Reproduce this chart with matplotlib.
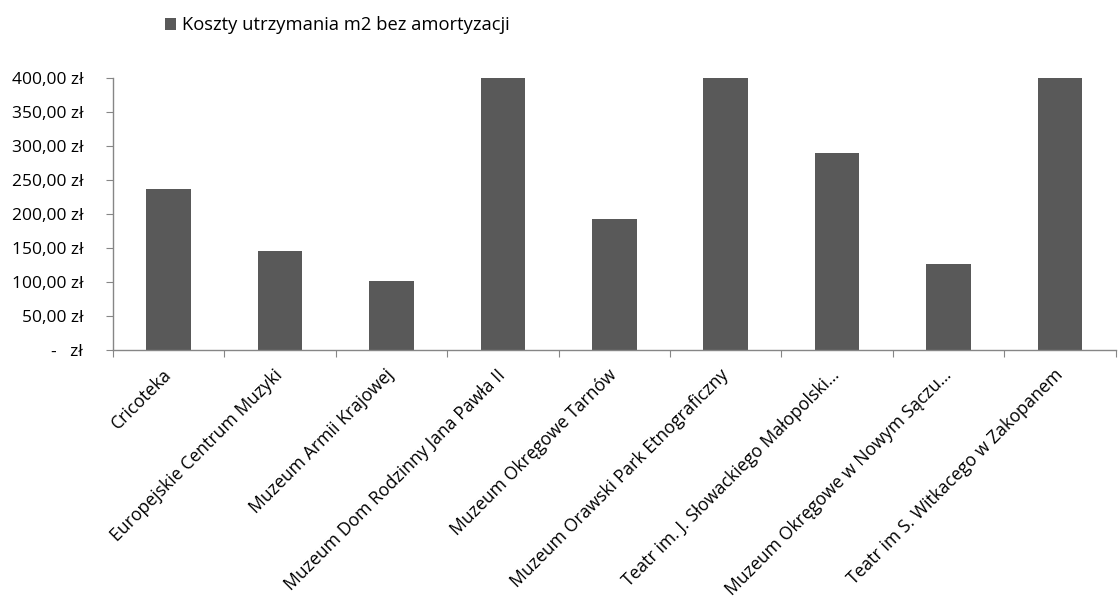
import matplotlib.pyplot as plt
from matplotlib.ticker import FixedLocator

plt.rcParams['font.family'] = ['Open Sans', 'DejaVu Sans']

# --- dane ---
categories = [
    'Cricoteka',
    'Europejskie Centrum Muzyki',
    'Muzeum Armii Krajowej',
    'Muzeum Dom Rodzinny Jana Pawła II',
    'Muzeum Okręgowe Tarnów',
    'Muzeum Orawski Park Etnograficzny',
    'Teatr im. J. Słowackiego Małopolski...',
    'Muzeum Okręgowe w Nowym Sączu...',
    'Teatr im S. Witkacego w Zakopanem',
]
# słupki 4, 6 i 9 są ucięte na 400 zł
values = [236.5, 145.5, 101.5, 400, 192.5, 400, 289.5, 126, 400]
y_ticks = [0, 50, 100, 150, 200, 250, 300, 350, 400]
y_labels = ['-   zł', '50,00 zł', '100,00 zł', '150,00 zł', '200,00 zł',
            '250,00 zł', '300,00 zł', '350,00 zł', '400,00 zł']
series_name = 'Koszty utrzymania m2 bez amortyzacji'

fig = plt.figure(figsize=(11.18, 6.04), dpi=100)
ax = fig.add_axes([0.101, 0.4205, 0.897, 0.4505])

x = list(range(len(categories)))
bars = ax.bar(x, values, width=0.4, color='#595959', label=series_name)

ax.set_xlim(-0.5, len(categories) - 0.5)
ax.set_ylim(0, 400)

for s in ['top', 'right']:
    ax.spines[s].set_visible(False)
for s in ['left', 'bottom']:
    ax.spines[s].set_color('#868686')
    ax.spines[s].set_linewidth(1)

ax.set_yticks(y_ticks)
ax.set_yticklabels(y_labels, fontsize=12.5)
ax.tick_params(axis='y', direction='out', length=5, color='#868686', pad=16.5)

# znaczniki osi X na granicach kategorii
ax.xaxis.set_major_locator(FixedLocator([i - 0.5 for i in range(len(categories) + 1)]))
ax.xaxis.set_major_formatter(plt.NullFormatter())
ax.tick_params(axis='x', which='major', direction='out', length=5, color='#868686')
ax.xaxis.set_minor_locator(FixedLocator(x))
ax.set_xticklabels(categories, minor=True, rotation=45, ha='right', va='center',
                   rotation_mode='anchor', fontsize=12.7)
ax.tick_params(axis='x', which='minor', length=0, pad=16)

fig.legend(handles=[bars], labels=[series_name], loc='upper left',
           bbox_to_anchor=(0.133, 1.0), frameon=False, fontsize=13.2,
           handlelength=0.6, handleheight=0.6, handletextpad=0.3)

fig.savefig('out.png', dpi=100)
